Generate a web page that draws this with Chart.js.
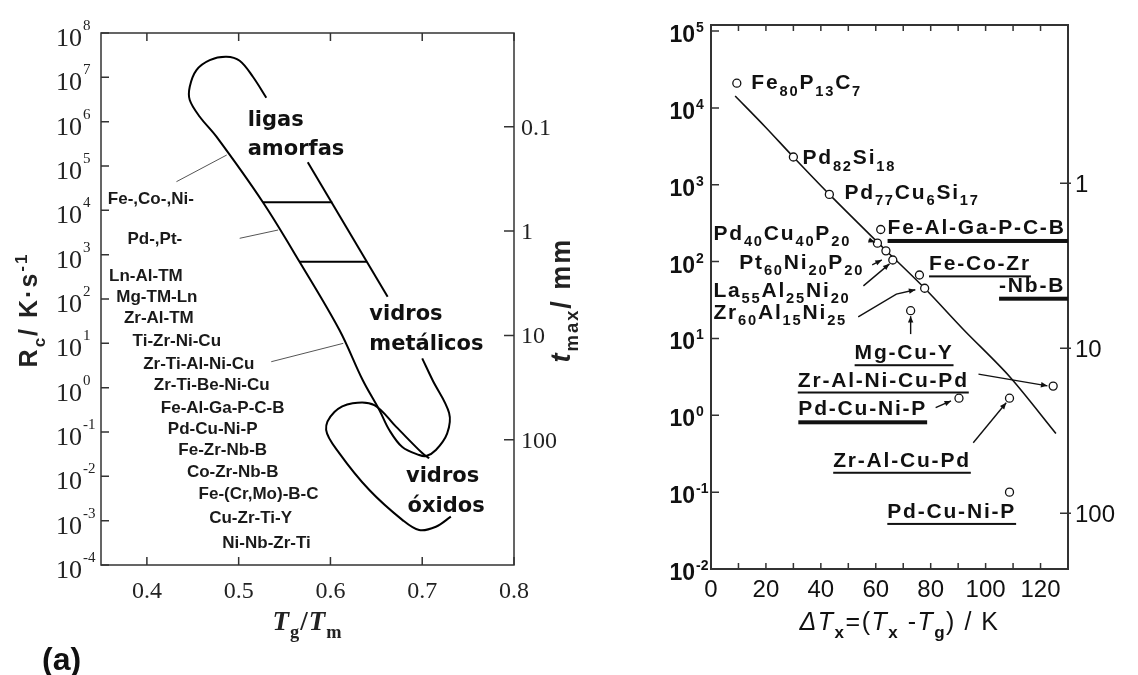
<!DOCTYPE html>
<html>
<head>
<meta charset="utf-8">
<script src="https://cdn.jsdelivr.net/npm/chart.js@4"></script>
<style>
  html, body { margin: 0; background: #fff; }
  #wrap { position: relative; width: 1138px; height: 675px; overflow: hidden; background: #fff; }
  canvas { position: absolute; top: 0; }
  #a { left: 0; }
  #b { left: 590px; }
</style>
</head>
<body>
<div id="wrap">
  <canvas id="a" width="590" height="675"></canvas>
  <canvas id="b" width="548" height="675"></canvas>
</div>
<script>
// ---- panel (a): Rc vs Tg/Tm ----
const yExpA = [-4, -3, -2, -1, 0, 1, 2, 3, 4, 5, 6, 7, 8];
const xTicksA = [0.4, 0.5, 0.6, 0.7, 0.8];
const tmaxTicksA = [0.1, 1, 10, 100];

// metallic glass loop (open at the top right, where "ligas amorfas" sits)
const metalLoopX = [0.5301, 0.5155, 0.5011, 0.4866, 0.4685, 0.454, 0.4467, 0.4467, 0.4576, 0.4758,
  0.5264, 0.5663, 0.6098, 0.6351, 0.6533, 0.6641, 0.6783, 0.6967, 0.7043, 0.7149, 0.7272, 0.7293, 0.7112, 0.70];
const metalLoopRc = [3.47e6, 1.03e7, 2.37e7, 2.92e7, 2.45e7, 1.46e7, 6.15e6, 3.08e6, 1.29e6, 4.58e5,
  1.52e4, 693, 20, 1.49, 0.313, 0.111, 0.0458, 0.0302, 0.0287, 0.0392, 0.0933, 0.268, 1.49, 4.59];
const metalEdgeX = [0.5753, 0.6623];
const metalEdgeRc = [1.21e5, 112];

// oxide glass loop
const oxideLoopX = [0.7076, 0.7003, 0.6714, 0.6478, 0.6242, 0.6043, 0.5953, 0.6098, 0.6424, 0.6786, 0.6967, 0.7149, 0.7312];
const oxideLoopRc = [0.0255, 0.033, 0.132, 0.406, 0.444, 0.282, 0.111, 0.033, 0.00491, 0.00103, 0.000615, 0.00073, 0.00123];

// horizontal bands inside the metallic loop
const bandRc = [1.52e4, 693];
const bandFromX = [0.5264, 0.5663];
const bandToX = [0.602, 0.6397];

// leader lines from the alloy list
const leaderFromX = [0.4322, 0.5011, 0.5355];
const leaderFromRc = [4.43e4, 2340, 3.85];
const leaderToX = [0.487, 0.543, 0.614];
const leaderToRc = [1.77e5, 3600, 10];

const alloyNames = ['Fe-,Co-,Ni-', 'Pd-,Pt-', 'Ln-Al-TM', 'Mg-TM-Ln', 'Zr-Al-TM', 'Ti-Zr-Ni-Cu',
  'Zr-Ti-Al-Ni-Cu', 'Zr-Ti-Be-Ni-Cu', 'Fe-Al-Ga-P-C-B', 'Pd-Cu-Ni-P', 'Fe-Zr-Nb-B', 'Co-Zr-Nb-B',
  'Fe-(Cr,Mo)-B-C', 'Cu-Zr-Ti-Y', 'Ni-Nb-Zr-Ti'];
const alloyX = [0.4043, 0.4087, 0.3989, 0.4109, 0.413, 0.4326, 0.4565, 0.4707, 0.4826, 0.4717, 0.4826, 0.4935, 0.5217, 0.513, 0.5304];
const alloyRc = [1.39e4, 1740, 255, 85.5, 28.7, 8.71, 2.63, 0.885, 0.268, 0.09, 0.0302, 0.00964, 0.00308, 0.000885, 0.000242];

const regionNames = ['ligas', 'amorfas', 'vidros', 'metálicos', 'vidros', 'óxidos'];
const regionX = [0.5098, 0.5098, 0.6424, 0.6424, 0.6823, 0.684];
const regionRc = [7.98e5, 1.77e5, 33.6, 7.06, 0.00755, 0.00158];

// ---- panel (b): Rc vs delta Tx ----
const xTicksB = [0, 20, 40, 60, 80, 100, 120];
const xMinorB = [10, 30, 50, 70, 90, 110, 130];
const yExpB = [-2, -1, 0, 1, 2, 3, 4, 5];
const tmaxTicksB = [1, 10, 100];

const deltaTx = [9.4, 30.0, 43.1, 61.8, 60.6, 63.7, 66.2, 75.9, 77.8, 72.7, 124.6, 90.3, 108.7, 108.7];
const rcB = [2.1e4, 2.3e3, 750, 262, 174, 138, 105, 67, 45, 23, 2.4, 1.67, 1.67, 0.1];
const fitX = [8.8, 19.7, 30, 43.1, 62.4, 77.8, 92, 108.7, 125.6];
const fitRc = [14300, 5700, 2300, 750, 155, 45, 13, 3.2, 0.58];

const labelsB = [
  { text: 'Fe_{80}P_{13}C_{7}', x: 14.7, y: 1.74e4 },
  { text: 'Pd_{82}Si_{18}', x: 33.3, y: 1850 },
  { text: 'Pd_{77}Cu_{6}Si_{17}', x: 48.6, y: 655 },
  { text: 'Fe-Al-Ga-P-C-B', x: 64.3, y: 229, ul: 4, edge: true },
  { text: 'Pd_{40}Cu_{40}P_{20}', x: 0.9, y: 192 },
  { text: 'Pt_{60}Ni_{20}P_{20}', x: 10.3, y: 80 },
  { text: 'La_{55}Al_{25}Ni_{20}', x: 0.9, y: 35 },
  { text: 'Zr_{60}Al_{15}Ni_{25}', x: 0.9, y: 17.9 },
  { text: 'Fe-Co-Zr', x: 79.4, y: 76.9, ul: 2 },
  { text: '-Nb-B', x: 104.9, y: 40.6, ul: 4, edge: true },
  { text: 'Mg-Cu-Y', x: 52.3, y: 5.37, ul: 2 },
  { text: 'Zr-Al-Ni-Cu-Pd', x: 31.6, y: 2.37, ul: 2 },
  { text: 'Pd-Cu-Ni-P', x: 31.8, y: 1.0, ul: 4 },
  { text: 'Zr-Al-Cu-Pd', x: 44.5, y: 0.214, ul: 2 },
  { text: 'Pd-Cu-Ni-P', x: 64.2, y: 0.0462, ul: 2 },
];

const arrowsB = [
  [[57.4, 192], [59.7, 179]],
  [[58.7, 90.8], [62.2, 105]],
  [[55.5, 48.3], [65, 93.5]],
  [[53.6, 19.1], [67.5, 37.8], [74.4, 43]],
  [[72.7, 11.4], [72.7, 19.5]],
  [[97.4, 3.43], [122.5, 2.42]],
  [[81.8, 1.26], [87.4, 1.54]],
  [[95.5, 0.44], [107.5, 1.46]],
];

// ---- helpers ----
function parseRich(str) {
  const parts = [];
  const re = /([_^])\{([^}]*)\}|([^_^]+)/g;
  let m;
  while ((m = re.exec(str))) {
    if (m[3]) parts.push({ t: m[3] });
    else parts.push({ t: m[2], sub: m[1] === '_', sup: m[1] === '^' });
  }
  return parts;
}

function drawRich(ctx, parts, x, y, o) {
  const fontFor = (p) => {
    const size = (p.sub || p.sup) ? o.size * (o.subScale || 0.68) : o.size;
    const fam = p.fam || o.family;
    return `${p.i ? 'italic ' : ''}${p.w || o.weight || 'normal'} ${size}px ${fam}`;
  };
  ctx.save();
  ctx.letterSpacing = (o.spacing || 0) + 'px';
  ctx.textAlign = 'left';
  ctx.textBaseline = 'alphabetic';
  ctx.fillStyle = o.color || '#000';
  let total = 0;
  const widths = parts.map((p) => {
    ctx.font = fontFor(p);
    const w = ctx.measureText(p.t).width;
    total += w;
    return w;
  });
  let cx = x;
  if (o.align === 'center') cx = x - total / 2;
  if (o.align === 'right') cx = x - total;
  const start = cx;
  parts.forEach((p, k) => {
    ctx.font = fontFor(p);
    let dy = 0;
    if (p.sub) dy = o.size * 0.3;
    if (p.sup) dy = -o.size * 0.42;
    ctx.fillText(p.t, cx, y + dy);
    cx += widths[k];
  });
  ctx.restore();
  return { start, end: start + total };
}

function rotated(ctx, px, py, fn) {
  ctx.save();
  ctx.translate(px, py);
  ctx.rotate(-Math.PI / 2);
  fn();
  ctx.restore();
}

function series(xs, ys, width, tension, color) {
  return {
    data: xs.map((x, k) => ({ x, y: ys[k] })),
    showLine: true,
    borderColor: color || '#000',
    borderWidth: width,
    pointRadius: 0,
    tension,
    fill: false,
  };
}

const SERIF = '"Liberation Serif", "Times New Roman", serif';
const SANS = '"Liberation Sans", Arial, sans-serif';
const WIDE = '"DejaVu Sans", Verdana, sans-serif';

// ---- panel (a) drawing ----
const panelA = {
  id: 'panelA',
  afterDraw(chart) {
    const { ctx, chartArea: a, scales: { x, y, t } } = chart;
    ctx.save();
    ctx.strokeStyle = '#333';
    ctx.lineWidth = 1.5;
    ctx.strokeRect(a.left, a.top, a.right - a.left, a.bottom - a.top);
    ctx.beginPath();
    yExpA.forEach((e) => {
      const py = y.getPixelForValue(10 ** e);
      ctx.moveTo(a.left, py); ctx.lineTo(a.left + 8, py);
    });
    xTicksA.forEach((v) => {
      const px = x.getPixelForValue(v);
      ctx.moveTo(px, a.bottom); ctx.lineTo(px, a.bottom - 8);
      ctx.moveTo(px, a.top); ctx.lineTo(px, a.top + 8);
    });
    tmaxTicksA.forEach((v) => {
      const py = t.getPixelForValue(v);
      ctx.moveTo(a.right, py); ctx.lineTo(a.right - 10, py);
    });
    ctx.stroke();

    ctx.fillStyle = '#222';
    yExpA.forEach((e) => {
      const py = y.getPixelForValue(10 ** e);
      ctx.font = `26px ${SERIF}`;
      ctx.textAlign = 'right';
      ctx.fillText('10', a.left - 19, py + 13);
      ctx.font = `15px ${SERIF}`;
      ctx.textAlign = 'left';
      ctx.fillText(String(e), a.left - 18, py - 3);
    });
    ctx.font = `24px ${SERIF}`;
    ctx.textAlign = 'center';
    xTicksA.forEach((v) => {
      ctx.fillText(v.toFixed(1), x.getPixelForValue(v), a.bottom + 33);
    });
    ctx.textAlign = 'left';
    tmaxTicksA.forEach((v) => {
      ctx.fillText(String(v), a.right + 7, t.getPixelForValue(v) + 8);
    });

    // axis titles
    drawRich(ctx, [{ t: 'T', i: true, w: 'bold' }, { t: 'g', sub: true, w: 'bold' }, { t: '/', w: 'bold' },
      { t: 'T', i: true, w: 'bold' }, { t: 'm', sub: true, w: 'bold' }],
      (a.left + a.right) / 2, 630, { size: 27, family: SERIF, align: 'center', color: '#222', spacing: 1 });
    rotated(ctx, 37, 310, () => {
      drawRich(ctx, [{ t: 'R' }, { t: 'c', sub: true }, { t: '/ K·s' }, { t: '-1', sup: true }], 0, 0,
        { size: 25, family: SANS, weight: 'bold', align: 'center', spacing: 2, color: '#222' });
    });
    rotated(ctx, 570, 300, () => {
      drawRich(ctx, [{ t: 't', i: true }, { t: 'max', sub: true }, { t: '/ mm' }], 0, 0,
        { size: 27, family: SANS, weight: 'bold', align: 'center', spacing: 2, color: '#222' });
    });
    drawRich(ctx, [{ t: '(a)' }], 42, 670, { size: 32, family: SANS, weight: 'bold', color: '#111' });

    // alloy list and region names
    alloyNames.forEach((name, k) => {
      drawRich(ctx, [{ t: name }], x.getPixelForValue(alloyX[k]), y.getPixelForValue(alloyRc[k]),
        { size: 17, family: SANS, weight: 'bold', align: 'center', color: '#1a1a1a' });
    });
    regionNames.forEach((name, k) => {
      drawRich(ctx, [{ t: name }], x.getPixelForValue(regionX[k]), y.getPixelForValue(regionRc[k]),
        { size: 21, family: WIDE, weight: 'bold', color: '#111' });
    });
    ctx.restore();
  },
};

const datasetsA = [
  series(metalLoopX, metalLoopRc, 2, 0.35),
  series(metalEdgeX, metalEdgeRc, 2, 0),
  series(oxideLoopX, oxideLoopRc, 2, 0.35),
];
bandRc.forEach((rc, k) => datasetsA.push(series([bandFromX[k], bandToX[k]], [rc, rc], 2, 0)));
leaderFromX.forEach((fx, k) => datasetsA.push(
  series([fx, leaderToX[k]], [leaderFromRc[k], leaderToRc[k]], 1, 0, '#555')));

new Chart(document.getElementById('a'), {
  type: 'scatter',
  data: { datasets: datasetsA },
  options: {
    responsive: false,
    animation: false,
    layout: { padding: { left: 101, top: 33, right: 76, bottom: 110 } },
    plugins: { legend: { display: false }, tooltip: { enabled: false } },
    scales: {
      x: { type: 'linear', min: 0.35, max: 0.8, display: false },
      y: { type: 'logarithmic', min: 1e-4, max: 1e8, display: false },
      t: { axis: 'y', position: 'right', type: 'logarithmic', min: 0.01262, max: 1589, reverse: true, display: false },
    },
  },
  plugins: [panelA],
});

// ---- panel (b) drawing ----
function arrowHead(ctx, x1, y1, x2, y2, size) {
  const ang = Math.atan2(y2 - y1, x2 - x1);
  ctx.beginPath();
  ctx.moveTo(x2, y2);
  ctx.lineTo(x2 - size * Math.cos(ang - 0.4), y2 - size * Math.sin(ang - 0.4));
  ctx.lineTo(x2 - size * Math.cos(ang + 0.4), y2 - size * Math.sin(ang + 0.4));
  ctx.closePath();
  ctx.fill();
}

const panelB = {
  id: 'panelB',
  afterDraw(chart) {
    const { ctx, chartArea: a, scales: { x, y, t } } = chart;
    ctx.save();
    ctx.strokeStyle = '#333';
    ctx.lineWidth = 2;
    ctx.strokeRect(a.left, a.top, a.right - a.left, a.bottom - a.top);
    ctx.lineWidth = 1.5;
    ctx.beginPath();
    xTicksB.concat(xMinorB).forEach((v) => {
      const px = x.getPixelForValue(v);
      ctx.moveTo(px, a.bottom); ctx.lineTo(px, a.bottom - 6);
      ctx.moveTo(px, a.top); ctx.lineTo(px, a.top + 6);
    });
    yExpB.forEach((e) => {
      const py = y.getPixelForValue(10 ** e);
      ctx.moveTo(a.left, py); ctx.lineTo(a.left + 8, py);
    });
    tmaxTicksB.forEach((v) => {
      const py = t.getPixelForValue(v);
      ctx.moveTo(a.right + 3, py); ctx.lineTo(a.right - 8, py);
    });
    ctx.stroke();

    ctx.fillStyle = '#111';
    yExpB.forEach((e) => {
      const py = y.getPixelForValue(10 ** e);
      ctx.font = `bold 23px ${SANS}`;
      ctx.textAlign = 'right';
      ctx.fillText('10', a.left - 16, py + 11);
      ctx.font = `bold 14px ${SANS}`;
      ctx.textAlign = 'left';
      ctx.fillText(String(e), a.left - 15, py + 1);
    });
    ctx.font = `24px ${SANS}`;
    ctx.textAlign = 'center';
    xTicksB.forEach((v) => ctx.fillText(String(v), x.getPixelForValue(v), a.bottom + 28));
    ctx.textAlign = 'left';
    tmaxTicksB.forEach((v) => ctx.fillText(String(v), a.right + 7, t.getPixelForValue(v) + 9));

    drawRich(ctx, [{ t: 'Δ', i: true }, { t: 'T', i: true }, { t: 'x', sub: true, w: 'bold' }, { t: '=(' },
      { t: 'T', i: true }, { t: 'x', sub: true, w: 'bold' }, { t: ' -' }, { t: 'T', i: true },
      { t: 'g', sub: true, w: 'bold' }, { t: ') / K' }],
      (a.left + a.right) / 2 + 10, 630, { size: 25, family: SANS, align: 'center', spacing: 1.5, color: '#111' });
    rotated(ctx, 663, 300, () => {
      drawRich(ctx, [{ t: 'R', i: true }, { t: 'c', sub: true }, { t: '/ K·s' }, { t: '-1', sup: true }], 0, 0,
        { size: 27, family: SANS, weight: 'bold', align: 'center', spacing: 1, color: '#111' });
    });
    rotated(ctx, 1128, 291, () => {
      drawRich(ctx, [{ t: 't', i: true }, { t: 'max', sub: true }, { t: '/ mm' }], 0, 0,
        { size: 26, family: SANS, weight: 'bold', align: 'center', spacing: 1, color: '#111' });
    });
    drawRich(ctx, [{ t: '(b)' }], 660, 670, { size: 32, family: SANS, weight: 'bold', color: '#111' });

    // compound labels
    labelsB.forEach((lb) => {
      const px = x.getPixelForValue(lb.x);
      const py = y.getPixelForValue(lb.y);
      const r = drawRich(ctx, parseRich(lb.text), px, py,
        { size: 21, family: SANS, weight: 'bold', spacing: 1.8, color: '#111', subScale: 0.7 });
      if (lb.ul) {
        ctx.fillStyle = '#111';
        const end = lb.edge ? a.right : r.end;
        ctx.fillRect(r.start, py + 5, end - r.start, lb.ul);
      }
    });

    // arrows
    ctx.strokeStyle = '#111';
    ctx.fillStyle = '#111';
    ctx.lineWidth = 1.4;
    arrowsB.forEach((pts) => {
      const p = pts.map(([vx, vy]) => [x.getPixelForValue(vx), y.getPixelForValue(vy)]);
      ctx.beginPath();
      p.forEach(([px, py], k) => (k ? ctx.lineTo(px, py) : ctx.moveTo(px, py)));
      ctx.stroke();
      const n = p.length;
      arrowHead(ctx, p[n - 2][0], p[n - 2][1], p[n - 1][0], p[n - 1][1], 7);
    });
    ctx.restore();
  },
};

new Chart(document.getElementById('b'), {
  type: 'scatter',
  data: {
    datasets: [
      {
        data: deltaTx.map((v, k) => ({ x: v, y: rcB[k] })),
        pointRadius: 4,
        pointStyle: 'circle',
        borderColor: '#111',
        backgroundColor: '#fff',
        borderWidth: 1.3,
        showLine: false,
      },
      series(fitX, fitRc, 1.6, 0.3, '#111'),
    ],
  },
  options: {
    responsive: false,
    animation: false,
    layout: { padding: { left: 121, top: 25, right: 70, bottom: 106 } },
    plugins: { legend: { display: false }, tooltip: { enabled: false } },
    scales: {
      x: { type: 'linear', min: 0, max: 130, display: false },
      y: { type: 'logarithmic', min: 0.01, max: 1.2e5, display: false },
      t: { axis: 'y', position: 'right', type: 'logarithmic', min: 0.11, max: 217.6, reverse: true, display: false },
    },
  },
  plugins: [panelB],
});
</script>
</body>
</html>
